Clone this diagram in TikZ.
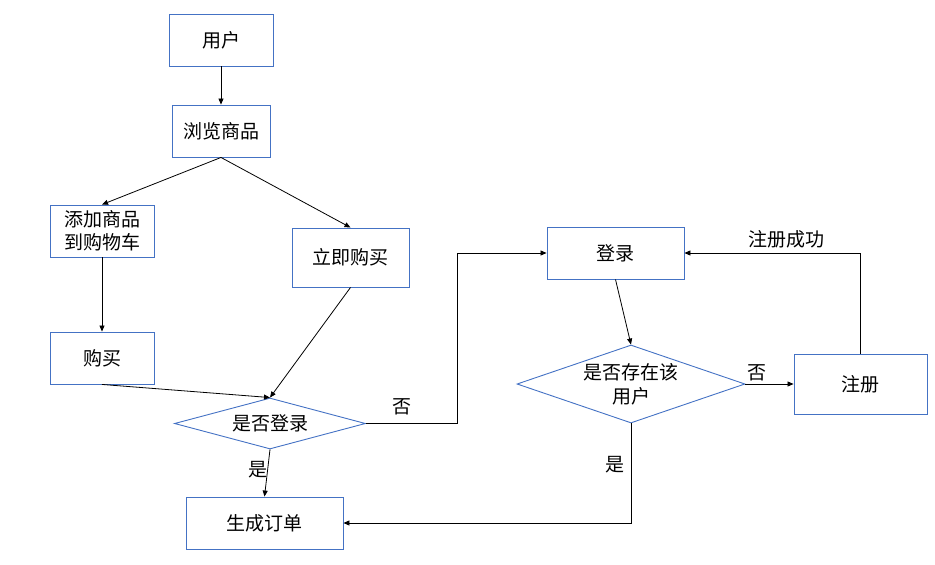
\documentclass[tikz,border=0pt]{standalone}
\usepackage{fontspec}
\setmainfont{Noto Sans CJK SC}
\usetikzlibrary{arrows.meta,shapes.geometric}
\definecolor{boxblue}{HTML}{4472C4}
\tikzset{
  stepbox/.style={draw=boxblue,line width=0.9pt,inner sep=0pt,align=center,font=\fontsize{19}{23}\selectfont},
  decision/.style={draw=boxblue,line width=0.9pt,diamond,inner sep=0pt},
  dtext/.style={inner sep=0pt,align=center,font=\fontsize{19}{24}\selectfont},
  lbl/.style={inner sep=0pt,font=\fontsize{19}{23}\selectfont},
  conn/.style={line width=0.8pt,-{Triangle[length=6pt,width=5pt]}}
}
\begin{document}
\begin{tikzpicture}[x=1pt,y=-1pt]
\useasboundingbox (0,0) rectangle (935,565);
\node[stepbox,minimum width=104pt,minimum height=52pt] (user) at (221,40) {用户};
\node[stepbox,minimum width=98pt,minimum height=52pt] (browse) at (221,131) {浏览商品};
\node[stepbox,minimum width=104pt,minimum height=52pt] (cart) at (102,231) {添加商品\\到购物车};
\node[stepbox,minimum width=117pt,minimum height=59pt] (now) at (350.5,257.5) {立即购买};
\node[stepbox,minimum width=104pt,minimum height=52pt] (buy) at (102,358) {购买};
\node[decision,minimum width=191pt,minimum height=51pt] (d1) at (270,423.5) {};
\node[dtext] (d1t) at (270,423.5) {是否登录};
\node[stepbox,minimum width=157pt,minimum height=52pt] (order) at (264.5,523) {生成订单};
\node[stepbox,minimum width=137pt,minimum height=52pt] (login) at (615.5,253) {登录};
\node[decision,minimum width=228pt,minimum height=78pt] (d2) at (631,384) {};
\node[dtext] (d2t) at (631,384.5) {是否存在该\\用户};
\node[stepbox,minimum width=133pt,minimum height=60pt] (reg) at (860.5,384) {注册};
\coordinate (k1) at (457,423.5);
\draw[conn] (user.south) -- (browse.north);
\draw[conn] (browse.south) -- (cart.north);
\draw[conn] (browse.south) -- (now.north);
\draw[conn] (cart.south) -- (buy.north);
\draw[conn] (buy.south) -- (d1.north);
\draw[conn] (now.south) -- (d1.north);
\draw[conn] (d1.south) -- (order.north);
\draw[conn] (d1.east) -- (k1) |- (login.west);
\draw[conn] (login.south) -- (d2.north);
\draw[conn] (d2.east) -- (reg.west);
\draw[conn] (reg.north) |- (login.east);
\draw[conn] (d2.south) |- (order.east);
\node[lbl] (l1) at (402,407) {否};
\node[lbl] (l2) at (258,470) {是};
\node[lbl] (l3) at (615,465) {是};
\node[lbl] (l4) at (757,373) {否};
\node[lbl] (l5) at (786,239) {注册成功};
\end{tikzpicture}
\end{document}
